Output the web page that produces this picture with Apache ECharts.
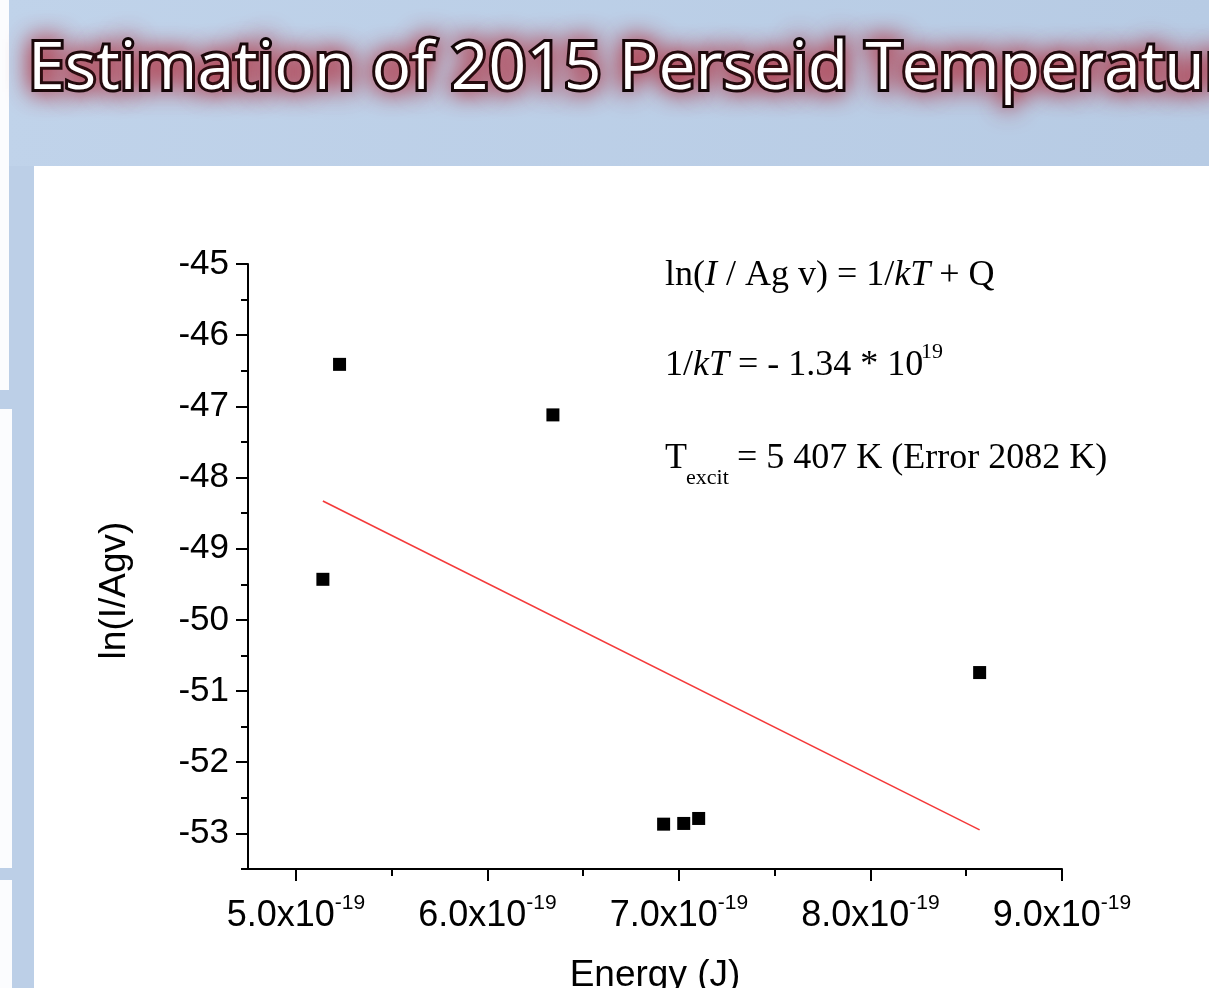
<!DOCTYPE html>
<html>
<head>
<meta charset="utf-8">
<script src="https://cdn.jsdelivr.net/npm/echarts@6/dist/echarts.min.js"></script>
<style>
html,body{margin:0;padding:0;background:#fff;overflow:hidden;}
#chart{width:1209px;height:988px;}
</style>
</head>
<body>
<div id="chart"></div>
<script>
// Energy in units of 1e-19 J, ln(I/Agv)
const energyE19 = [5.228, 6.342, 5.141, 8.570, 6.920, 7.025, 7.103];
const lnIAgv   = [-46.41, -47.12, -49.43, -50.74, -52.87, -52.86, -52.79];
// Linear fit endpoints
const fitEnergyE19 = [5.141, 8.570];
const fitLnIAgv    = [-48.33, -52.95];
// Axis ticks
const xMajorTicks = [5, 6, 7, 8, 9];
const xMinorTicks = [5.5, 6.5, 7.5, 8.5];
const yMajorTicks = [-53, -52, -51, -50, -49, -48, -47, -46, -45];
const yMinorTicks = [-53.5, -52.5, -51.5, -50.5, -49.5, -48.5, -47.5, -46.5, -45.5];
const xMin = 4.75, xMax = 9.0, yMin = -53.5, yMax = -45;

const titleText = 'Estimation of 2015 Perseid Temperature';
const xName = 'Energy (J)';
const yName = 'ln(I/Agv)';

const scatterData = energyE19.map((e, i) => [e, lnIAgv[i]]);
const fitData = fitEnergyE19.map((e, i) => [e, fitLnIAgv[i]]);

const serif = '"Liberation Serif", "Times New Roman", serif';
const sans = '"Liberation Sans", Arial, sans-serif';

const chart = echarts.init(document.getElementById('chart'), null, {renderer: 'canvas'});

const option = {
  backgroundColor: '#bccfe7',
  animation: false,
  title: {
    text: titleText,
    left: 28,
    top: 37,
    padding: 0,
    textStyle: {
      fontFamily: '"Open Sans", Lato, sans-serif',
      fontSize: 66,
      fontWeight: 'normal',
      color: '#ffffff',
      textBorderColor: '#000000',
      textBorderWidth: 6,
      textShadowColor: 'rgba(175,45,60,1)',
      textShadowBlur: 24
    }
  },
  graphic: [
    // slide background pieces
    {type: 'rect', z: -10, silent: true, shape: {x: 0, y: 0, width: 1209, height: 166},
     style: {fill: new echarts.graphic.LinearGradient(0, 0, 1, 0, [{offset: 0, color: '#c0d3ea'}, {offset: 1, color: '#b7cbe4'}])}},
    {type: 'rect', z: -9, silent: true, shape: {x: 0, y: 0, width: 9, height: 390}, style: {fill: '#fbfcfe'}},
    {type: 'rect', z: -9, silent: true, shape: {x: 0, y: 409, width: 12, height: 459}, style: {fill: '#fbfcfe'}},
    {type: 'rect', z: -9, silent: true, shape: {x: 0, y: 880, width: 12, height: 108}, style: {fill: '#fbfcfe'}},
    {type: 'rect', z: -9, silent: true, shape: {x: 34, y: 166, width: 1175, height: 822}, style: {fill: '#ffffff'}},
    // annotations
    {type: 'text', z: 10, style: {
      x: 665, y: 276, verticalAlign: 'middle',
      text: '{n|ln(}{i|I}{n| / Ag v) = 1/}{i|kT}{n| + Q}',
      rich: {
        n: {fontFamily: serif, fontSize: 36, fill: '#000'},
        i: {fontFamily: serif, fontSize: 36, fontStyle: 'italic', fill: '#000'}
      }
    }},
    {type: 'text', z: 10, style: {
      x: 665, y: 366, verticalAlign: 'middle',
      text: '{n|1/}{i|kT}{n| = - 1.34 * 10}',
      rich: {
        n: {fontFamily: serif, fontSize: 36, fill: '#000'},
        i: {fontFamily: serif, fontSize: 36, fontStyle: 'italic', fill: '#000'}
      }
    }},
    {type: 'text', z: 10, style: {
      x: 921, y: 352, verticalAlign: 'middle', text: '19',
      fontFamily: serif, fontSize: 22, fill: '#000'
    }},
    {type: 'text', z: 10, style: {
      x: 665, y: 459, verticalAlign: 'middle', text: 'T',
      fontFamily: serif, fontSize: 36, fill: '#000'
    }},
    {type: 'text', z: 10, style: {
      x: 686, y: 478, verticalAlign: 'middle', text: 'excit',
      fontFamily: serif, fontSize: 22, fill: '#000'
    }},
    {type: 'text', z: 10, style: {
      x: 737, y: 459, verticalAlign: 'middle', text: '= 5 407 K (Error 2082 K)',
      fontFamily: serif, fontSize: 36, fill: '#000'
    }}
  ],
  grid: {left: 248, right: 147, top: 264, bottom: 119, containLabel: false, outerBoundsMode: 'none'},
  xAxis: [
    {
      type: 'value', min: xMin, max: xMax, position: 'bottom',
      name: xName, nameLocation: 'middle', nameGap: 88,
      nameTextStyle: {fontFamily: sans, fontSize: 37, color: '#000'},
      axisLine: {show: true, onZero: false, lineStyle: {color: '#000', width: 2}},
      axisTick: {show: true, customValues: xMajorTicks, length: 12, inside: false, lineStyle: {color: '#000', width: 2}},
      axisLabel: {
        show: true, customValues: xMajorTicks, margin: 24,
        formatter: v => '{m|' + v.toFixed(1) + 'x10}{s|-19}',
        rich: {
          m: {fontFamily: sans, fontSize: 36, color: '#000', lineHeight: 47},
          s: {fontFamily: sans, fontSize: 21, color: '#000', lineHeight: 21, verticalAlign: 'top'}
        }
      },
      splitLine: {show: false}
    },
    {
      type: 'value', min: xMin, max: xMax, position: 'bottom', gridIndex: 0,
      axisLine: {show: false},
      axisTick: {show: true, customValues: xMinorTicks, length: 7, inside: false, lineStyle: {color: '#000', width: 2}},
      axisLabel: {show: false},
      splitLine: {show: false}
    }
  ],
  yAxis: [
    {
      type: 'value', min: yMin, max: yMax, position: 'left',
      name: yName, nameLocation: 'middle', nameGap: 115, nameRotate: 90,
      nameTextStyle: {fontFamily: sans, fontSize: 37, color: '#000', padding: [0, 48, 0, 0]},
      axisLine: {show: true, onZero: false, lineStyle: {color: '#000', width: 2}},
      axisTick: {show: true, customValues: yMajorTicks, length: 12, inside: false, lineStyle: {color: '#000', width: 2}},
      axisLabel: {show: true, customValues: yMajorTicks, margin: 19, fontFamily: sans, fontSize: 35, color: '#000',
        formatter: v => String(v)},
      splitLine: {show: false}
    },
    {
      type: 'value', min: yMin, max: yMax, position: 'left', gridIndex: 0,
      axisLine: {show: false},
      axisTick: {show: true, customValues: yMinorTicks, length: 7, inside: false, lineStyle: {color: '#000', width: 2}},
      axisLabel: {show: false},
      splitLine: {show: false}
    }
  ],
  series: [
    {
      type: 'line', xAxisIndex: 0, yAxisIndex: 0, data: fitData,
      showSymbol: false, symbol: 'none',
      lineStyle: {color: '#f43a3a', width: 1.6}, z: 3
    },
    {
      type: 'scatter', xAxisIndex: 0, yAxisIndex: 0, data: scatterData,
      symbol: 'rect', symbolSize: 13,
      itemStyle: {color: '#000', opacity: 1}, z: 4
    }
  ]
};
chart.setOption(option);
</script>
</body>
</html>
